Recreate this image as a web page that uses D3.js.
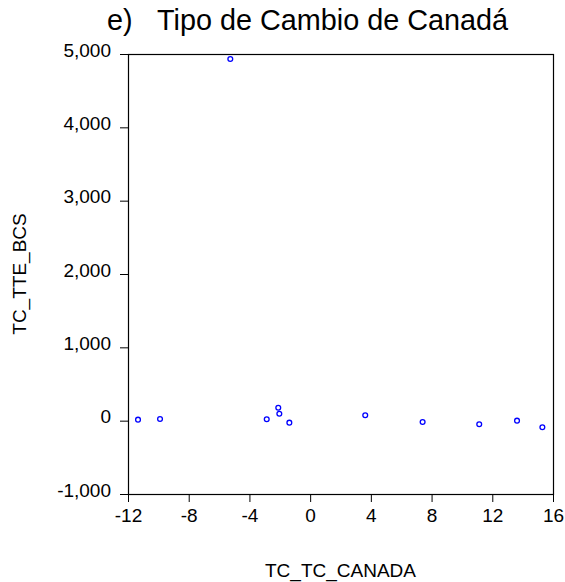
<!DOCTYPE html>
<html>
<head>
<meta charset="utf-8">
<script src="https://cdn.jsdelivr.net/npm/d3@7"></script>
<style>
  html, body { margin: 0; padding: 0; background: #fff; }
  svg { display: block; font-family: "Liberation Sans", Arial, sans-serif; }
</style>
</head>
<body>
<svg id="chart" width="565" height="582"></svg>
<script>
// ---- data ----
const tcCanada = [-11.34, -9.89, -5.26, -2.86, -2.10, -2.03, -1.37, 3.63, 7.41, 11.14, 13.63, 15.30];
const tteBcs   = [14, 23, 4932, 19, 177, 95, -27, 74, -18, -49, 0, -90];

const xTickValues = [-12, -8, -4, 0, 4, 8, 12, 16];
const xTickLabels = ["-12", "-8", "-4", "0", "4", "8", "12", "16"];
const yTickValues = [-1000, 0, 1000, 2000, 3000, 4000, 5000];
const yTickLabels = ["-1,000", "0", "1,000", "2,000", "3,000", "4,000", "5,000"];

const titlePrefix = "e)";
const titleText = "Tipo de Cambio de Canadá";
const xTitle = "TC_TC_CANADA";
const yTitle = "TC_TTE_BCS";

// ---- layout ----
const plot = { left: 128, right: 553, top: 54, bottom: 494 };
const svg = d3.select("#chart");

const x = d3.scaleLinear().domain([-12, 16]).range([plot.left, plot.right]);
const y = d3.scaleLinear().domain([-1000, 5000]).range([plot.bottom, plot.top]);

// title
const title = svg.append("text")
  .attr("y", 30)
  .attr("font-size", 28.8)
  .attr("fill", "#000");
title.append("tspan").attr("x", 107).text(titlePrefix);
title.append("tspan").attr("x", 157).text(titleText);

// x axis
const xAxis = d3.axisBottom(x)
  .tickValues(xTickValues)
  .tickFormat((d, i) => xTickLabels[i])
  .tickSize(8)
  .tickPadding(7);
const gx = svg.append("g")
  .attr("transform", `translate(0,${plot.bottom})`)
  .call(xAxis);
gx.select(".domain").remove();
gx.selectAll("line").attr("stroke", "#000").attr("stroke-width", 1);
gx.selectAll("text").attr("font-size", 19).attr("fill", "#000")
  .attr("font-family", "'Liberation Sans', Arial, sans-serif");

// y axis
const yAxis = d3.axisLeft(y)
  .tickValues(yTickValues)
  .tickFormat((d, i) => yTickLabels[i])
  .tickSize(8)
  .tickPadding(9);
const gy = svg.append("g")
  .attr("transform", `translate(${plot.left},0)`)
  .call(yAxis);
gy.select(".domain").remove();
gy.selectAll("line").attr("stroke", "#000").attr("stroke-width", 1);
gy.selectAll("text").attr("font-size", 19).attr("fill", "#000").attr("dy", "0.12em")
  .attr("font-family", "'Liberation Sans', Arial, sans-serif");

// frame
svg.append("rect")
  .attr("x", plot.left + 0.5)
  .attr("y", plot.top + 0.5)
  .attr("width", plot.right - plot.left)
  .attr("height", plot.bottom - plot.top)
  .attr("fill", "none")
  .attr("stroke", "#000")
  .attr("stroke-width", 1.2);

// points
svg.append("g")
  .selectAll("circle")
  .data(tcCanada.map((v, i) => [v, tteBcs[i]]))
  .join("circle")
  .attr("cx", d => x(d[0]))
  .attr("cy", d => y(d[1]))
  .attr("r", 2.4)
  .attr("fill", "none")
  .attr("stroke", "#0000ff")
  .attr("stroke-width", 1.3);

// axis titles
svg.append("text")
  .attr("x", (plot.left + plot.right) / 2)
  .attr("y", 577)
  .attr("text-anchor", "middle")
  .attr("font-size", 19)
  .attr("fill", "#000")
  .text(xTitle);

svg.append("text")
  .attr("transform", `translate(26,${(plot.top + plot.bottom) / 2}) rotate(-90)`)
  .attr("text-anchor", "middle")
  .attr("font-size", 19)
  .attr("fill", "#000")
  .text(yTitle);
</script>
</body>
</html>
